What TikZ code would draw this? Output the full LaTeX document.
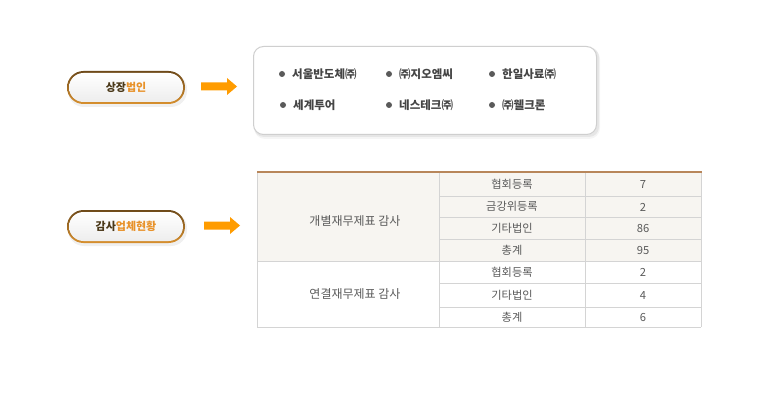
\documentclass[tikz,border=0pt]{standalone}
\usepackage{fontspec}
\setmainfont{Noto Sans CJK KR}
\usetikzlibrary{shadows}
\definecolor{pilltop}{HTML}{6E4A1A}
\definecolor{pillbot}{HTML}{D8902E}
\definecolor{pilldark}{HTML}{4A3818}
\definecolor{pillorange}{HTML}{E8922A}
\definecolor{arroworange}{HTML}{FF9C00}
\definecolor{boxline}{HTML}{CFCFCF}
\definecolor{itemtext}{HTML}{454545}
\definecolor{bulletgray}{HTML}{5A5A5A}
\definecolor{tablebg}{HTML}{F7F5F1}
\definecolor{tableline}{HTML}{D4D4D4}
\definecolor{tabletop}{HTML}{B8865A}
\definecolor{celltext}{HTML}{5A5A5A}
\tikzset{
  pilltext/.style={font=\fontsize{11pt}{13pt}\selectfont\bfseries, text=pilldark, inner sep=0pt},
  bigarrow/.style={fill=arroworange, draw=none},
  item/.style={anchor=west, font=\fontsize{11.5pt}{13pt}\selectfont\bfseries, text=itemtext, inner sep=0pt},
  bullet/.style={circle, fill=bulletgray, minimum size=6pt, inner sep=0pt},
  cell/.style={font=\fontsize{11.2pt}{13pt}\selectfont, text=celltext, inner sep=0pt},
  grouplabel/.style={font=\fontsize{12pt}{14pt}\selectfont, text=celltext, inner sep=0pt},
  tline/.style={draw=tableline, line width=1pt}
}
\begin{document}
\begin{tikzpicture}[x=1pt,y=-1pt]
\useasboundingbox (0,0) rectangle (766,409);
\fill[white] (0,0) rectangle (766,409);

% ---- pill 1 ----
\fill[black, opacity=0.06, rounded corners=16pt] (68,73) rectangle (187,107);
\shade[top color=pilltop, bottom color=pillbot, rounded corners=16.5pt, even odd rule]
  (67,71) rectangle (185,104) (69,73) rectangle (183,102);
\shade[top color=white, bottom color=black!7, rounded corners=14.5pt] (69,73) rectangle (183,102);
\node[pilltext] (p1) at (126,87.5) {상장\textcolor{pillorange}{법인}};

% ---- pill 2 ----
\fill[black, opacity=0.06, rounded corners=16pt] (68,212) rectangle (187,246);
\shade[top color=pilltop, bottom color=pillbot, rounded corners=16.5pt, even odd rule]
  (67,210) rectangle (185,243) (69,212) rectangle (183,241);
\shade[top color=white, bottom color=black!7, rounded corners=14.5pt] (69,212) rectangle (183,241);
\node[pilltext] (p2) at (126,226.5) {감사\textcolor{pillorange}{업체현황}};

% ---- arrows ----
\fill[bigarrow] (201,82.5) -- (227,82.5) -- (227,78) -- (237,86.5) -- (227,95) -- (227,90.5) -- (201,90.5) -- cycle;
\fill[bigarrow] (204,221.5) -- (230,221.5) -- (230,217) -- (240,225.5) -- (230,234) -- (230,229.5) -- (204,229.5) -- cycle;

% ---- listed companies box ----
\fill[black, opacity=0.04, rounded corners=11pt] (254,48) rectangle (600,139);
\fill[black, opacity=0.06, rounded corners=10pt] (254,47) rectangle (599,137);
\draw[boxline, fill=white, rounded corners=10pt, line width=1pt] (253.5,46.5) rectangle (596.5,134.5);

\node[bullet] (b1) at (282,74) {};
\node[item] (t1) at (292,74) {서울반도체㈜};
\node[bullet] (b2) at (389,74) {};
\node[item] (t2) at (399,74) {㈜지오엠씨};
\node[bullet] (b3) at (492,74) {};
\node[item] (t3) at (502,74) {한일사료㈜};
\node[bullet] (b4) at (283,105) {};
\node[item] (t4) at (293,105) {세계투어};
\node[bullet] (b5) at (389,105) {};
\node[item] (t5) at (399,105) {네스테크㈜};
\node[bullet] (b6) at (492,105) {};
\node[item] (t6) at (502,105) {㈜웰크론};

% ---- table ----
\fill[tablebg] (257,172) rectangle (701,261);
\draw[tline] (439,196) -- (701,196);
\draw[tline] (439,217) -- (701,217);
\draw[tline] (439,239) -- (701,239);
\draw[tline] (257,261) -- (701,261);
\draw[tline] (439,283) -- (701,283);
\draw[tline] (439,307) -- (701,307);
\draw[tline] (257,327) -- (701,327);
\draw[tline] (257,172) -- (257,327);
\draw[tline] (439,172) -- (439,327);
\draw[tline] (585,172) -- (585,327);
\draw[tline] (701,172) -- (701,327);
\draw[tabletop, line width=2pt] (257,172) -- (702,172);

\node[grouplabel] (g1) at (355,221) {개별재무제표 감사};
\node[grouplabel] (g2) at (355,294) {연결재무제표 감사};

\node[cell] (r1a) at (512,184.5) {협회등록};
\node[cell] (r1b) at (643,185) {7};
\node[cell] (r2a) at (512,206.5) {금강위등록};
\node[cell] (r2b) at (643,207) {2};
\node[cell] (r3a) at (512,228) {기타법인};
\node[cell] (r3b) at (643,228.5) {86};
\node[cell] (r4a) at (512,250) {총계};
\node[cell] (r4b) at (643,250.5) {95};
\node[cell] (r5a) at (512,272) {협회등록};
\node[cell] (r5b) at (643,272.5) {2};
\node[cell] (r6a) at (512,295) {기타법인};
\node[cell] (r6b) at (643,295.5) {4};
\node[cell] (r7a) at (512,317) {총계};
\node[cell] (r7b) at (643,317.5) {6};
\end{tikzpicture}
\end{document}
